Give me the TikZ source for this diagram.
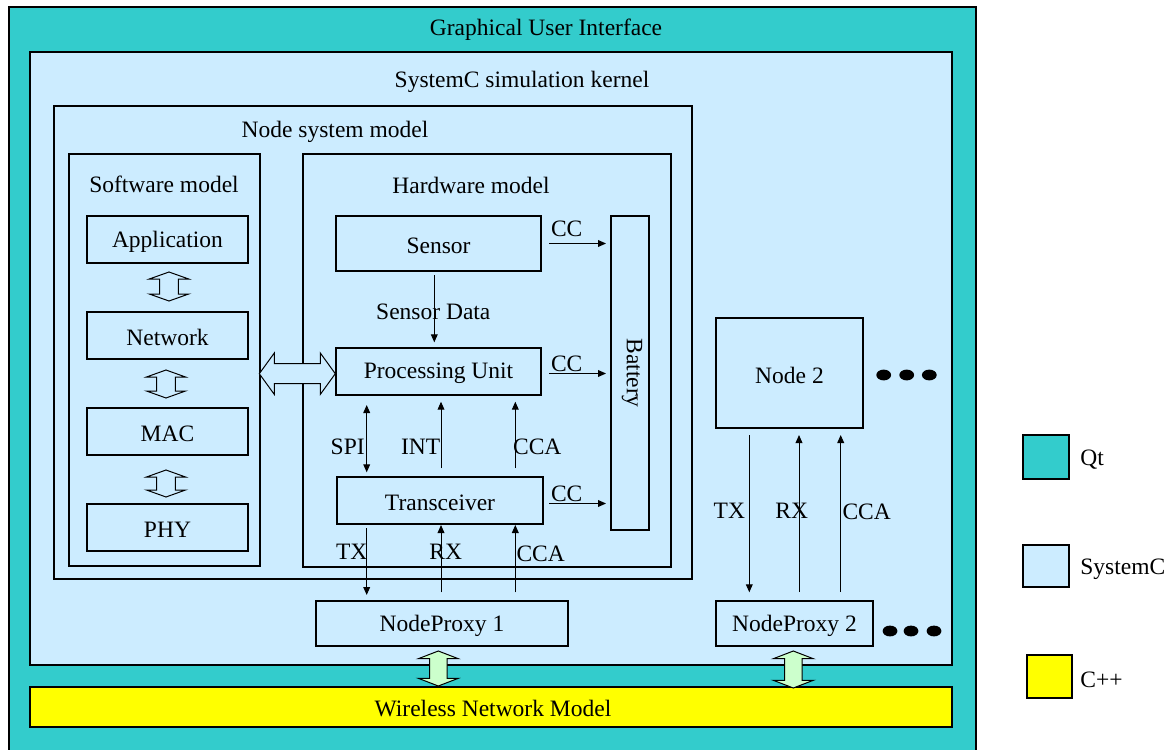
\documentclass[tikz,border=0pt]{standalone}
\usepackage{fontspec}
\setmainfont{Liberation Serif}
\usetikzlibrary{arrows.meta,fit,calc}
\definecolor{qt}{HTML}{33CCCC}
\definecolor{sysc}{HTML}{CCECFF}
\definecolor{cpp}{HTML}{FFFF00}
\definecolor{grn}{HTML}{CCFFCC}
% vertical hollow double arrow: fill, x, ytop, ybottom, head half width, shaft half width, head length
\newcommand{\VDArrow}[7]{%
  \draw[hollow,fill=#1] (#2,#3) -- ({#2+#5},{#3+#7}) -- ({#2+#6},{#3+#7}) -- ({#2+#6},{#4-#7}) -- ({#2+#5},{#4-#7}) -- (#2,#4) -- ({#2-#5},{#4-#7}) -- ({#2-#6},{#4-#7}) -- ({#2-#6},{#3+#7}) -- ({#2-#5},{#3+#7}) -- cycle;}
% horizontal hollow double arrow: fill, y, xleft, xright, head half height, shaft half height, head length
\newcommand{\HDArrow}[7]{%
  \draw[hollow,fill=#1] (#3,#2) -- ({#3+#7},{#2-#5}) -- ({#3+#7},{#2-#6}) -- ({#4-#7},{#2-#6}) -- ({#4-#7},{#2-#5}) -- (#4,#2) -- ({#4-#7},{#2+#5}) -- ({#4-#7},{#2+#6}) -- ({#3+#7},{#2+#6}) -- ({#3+#7},{#2+#5}) -- cycle;}
\begin{document}
\begin{tikzpicture}[x=0.5pt,y=-0.5pt,
  font=\fontsize{11.75pt}{14pt}\selectfont,
  box/.style={draw, inner sep=0pt, outer sep=0pt, fill=sysc, line width=0.6pt},
  hollow/.style={draw, line width=0.5pt},
  arr/.style={-{Triangle[length=4pt,width=3.4pt]}, line width=0.5pt},
  darr/.style={{Triangle[length=4pt,width=3.4pt]}-{Triangle[length=4pt,width=3.4pt]}, line width=0.5pt},
  lbl/.style={inner sep=0pt, yshift=-1pt},
  dot/.style={fill=black}]
\useasboundingbox (0,0) rectangle (1171,749);

% containers
\node[box, fill=qt, fit={(9,7) (976,760)}] (gui) {};
\node[box, fit={(30,52) (952,665)}] (kernel) {};
\node[box, fill=cpp, fit={(30,687) (952,727)}] (wnm) {};
\node[lbl] (wnmt) at ($(wnm.center)+(2,0)$) {Wireless Network Model};
\node[box, fit={(54,106) (692,579)}] (nsm) {};
\node[box, fit={(69,154) (260,566)}] (swm) {};
\node[box, fit={(303,154) (671,567)}] (hwm) {};

\node[lbl] (guit) at (546,28) {Graphical User Interface};
\node[lbl] (kernelt) at (522,80) {SystemC simulation kernel};
\node[lbl] (nsmt) at (335,130) {Node system model};
\node[lbl] (swmt) at (164,182) {Software model};
\node[lbl] (hwmt) at (471,183) {Hardware model};

% software stack
\node[box, fit={(87,216) (248,263)}] (app) {};
\node[box, fit={(87,312) (248,359)}] (net) {};
\node[box, fit={(87,408) (248,455)}] (mac) {};
\node[box, fit={(87,504) (248,551)}] (phy) {};
\node[lbl] (appt) at (app.center) {Application};
\node[lbl] (nett) at (net.center) {Network};
\node[lbl] (mact) at (mac.center) {MAC};
\node[lbl] (phyt) at (phy.center) {PHY};
\VDArrow{sysc}{169}{272}{301}{19.7}{9.3}{7}
\VDArrow{sysc}{166}{370}{398}{19.5}{9.3}{7}
\VDArrow{sysc}{166}{470}{497}{19.5}{9.3}{7}

% hardware
\node[box, fit={(336,216) (541,271)}] (sensor) {};
\node[box, fit={(336,348) (541,395)}] (pu) {};
\node[box, fit={(337,477) (543,524)}] (trx) {};
\node[box, fit={(611,216) (649,530)}] (bat) {};
\node[lbl] (sensort) at (sensor.center) {Sensor};
\node[lbl] (put) at (pu.center) {Processing Unit};
\node[lbl] (trxt) at (trx.center) {Transceiver};
\node[inner sep=0pt, rotate=-90] (batt) at ($(bat.center)+(2,0)$) {Battery};

\HDArrow{sysc}{373.7}{259.3}{335.3}{20.7}{10}{15}

% CC arrows
\draw[arr] ($(sensor.east)+(8,0)$) -- ($(bat.west |- sensor.east)+(-5,0)$);
\draw[arr] ($(pu.east)+(8,2)$) -- ($(bat.west |- pu.east)+(-5,2)$);
\draw[arr] ($(trx.east)+(6,3)$) -- ($(bat.west |- trx.east)+(-5,3)$);
\node[lbl] (cc1) at (566.7,227) {CC};
\node[lbl] (cc2) at (566.7,361.7) {CC};
\node[lbl] (cc3) at (566.7,492) {CC};

% sensor data
\draw[arr] ($(sensor.south)+(-4.2,4)$) -- ($(pu.north)+(-4.2,-5.7)$);
\node[lbl] (sdt) at (433.3,310) {Sensor Data};

% PU <-> transceiver
\draw[darr] ($(pu.south)+(-71.8,10)$) -- ($(trx.north)+(-73.3,-4.7)$);
\draw[arr] ($(trx.north)+(1,-9)$) -- ($(pu.south)+(2.5,6.7)$);
\draw[arr] ($(trx.north)+(75.3,-9)$) -- ($(pu.south)+(76.8,6.7)$);
\node[lbl] (spit) at (347.7,445) {SPI};
\node[lbl] (intt) at (420.7,445) {INT};
\node[lbl] (cca1t) at (537.3,445) {CCA};

% node proxy 1
\node[box, fit={(316,601) (568,646)}] (np1) {};
\node[lbl] (np1t) at (np1.center) {NodeProxy 1};
\draw[arr] ($(trx.south)+(-73.3,4)$) -- ($(np1.north)+(-75.3,-6)$);
\draw[arr] ($(np1.north)+(-1,-8.7)$) -- ($(trx.south)+(1,1)$);
\draw[arr] ($(np1.north)+(73.3,-8.7)$) -- ($(trx.south)+(75.3,1)$);
\node[lbl] (tx1t) at (351.7,550) {TX};
\node[lbl] (rx1t) at (445.7,550) {RX};
\node[lbl] (cca2t) at (540.7,552) {CCA};

% node 2
\node[box, fit={(716,318) (863,428)}] (node2) {};
\node[box, fit={(716,601) (873,646)}] (np2) {};
\node[lbl] (node2t) at (node2.center) {Node 2};
\node[lbl] (np2t) at (np2.center) {NodeProxy 2};
\draw[arr] ($(node2.south)+(-40.2,7)$) -- ($(np2.north)+(-45.2,-8.7)$);
\draw[arr] ($(np2.north)+(4.5,-9)$) -- ($(node2.south)+(9.5,7)$);
\draw[arr] ($(np2.north)+(46.2,-9)$) -- ($(node2.south)+(51.2,7)$);
\node[lbl] (tx2t) at (729.3,509) {TX};
\node[lbl] (rx2t) at (791.7,509) {RX};
\node[lbl] (cca3t) at (866.7,510) {CCA};

% ellipsis dots
\fill[dot] (883.7,375) ellipse [x radius=3.7pt, y radius=2.7pt];
\fill[dot] (906.7,375) ellipse [x radius=3.7pt, y radius=2.7pt];
\fill[dot] (929.3,375) ellipse [x radius=3.7pt, y radius=2.7pt];
\fill[dot] (890,631) ellipse [x radius=3.7pt, y radius=2.7pt];
\fill[dot] (911,631) ellipse [x radius=3.7pt, y radius=2.7pt];
\fill[dot] (934,631) ellipse [x radius=3.7pt, y radius=2.7pt];

% links to wireless network model
\VDArrow{grn}{438.3}{651}{686}{20}{8.8}{7.7}
\VDArrow{grn}{793.3}{651}{688}{20}{8.8}{7.7}

% legend
\node[box, fill=qt, fit={(1023,435) (1069,479)}] (lqt) {};
\node[box, fill=sysc, fit={(1023,545) (1069,587)}] (lsc) {};
\node[box, fill=cpp, fit={(1027,655) (1072,698)}] (lcpp) {};
\node[lbl, anchor=west] (lqtt) at (1080,458) {Qt};
\node[lbl, anchor=west] (lsct) at (1080,567) {SystemC};
\node[lbl, anchor=west] (lcppt) at (1080,678) {C++};
\end{tikzpicture}
\end{document}
